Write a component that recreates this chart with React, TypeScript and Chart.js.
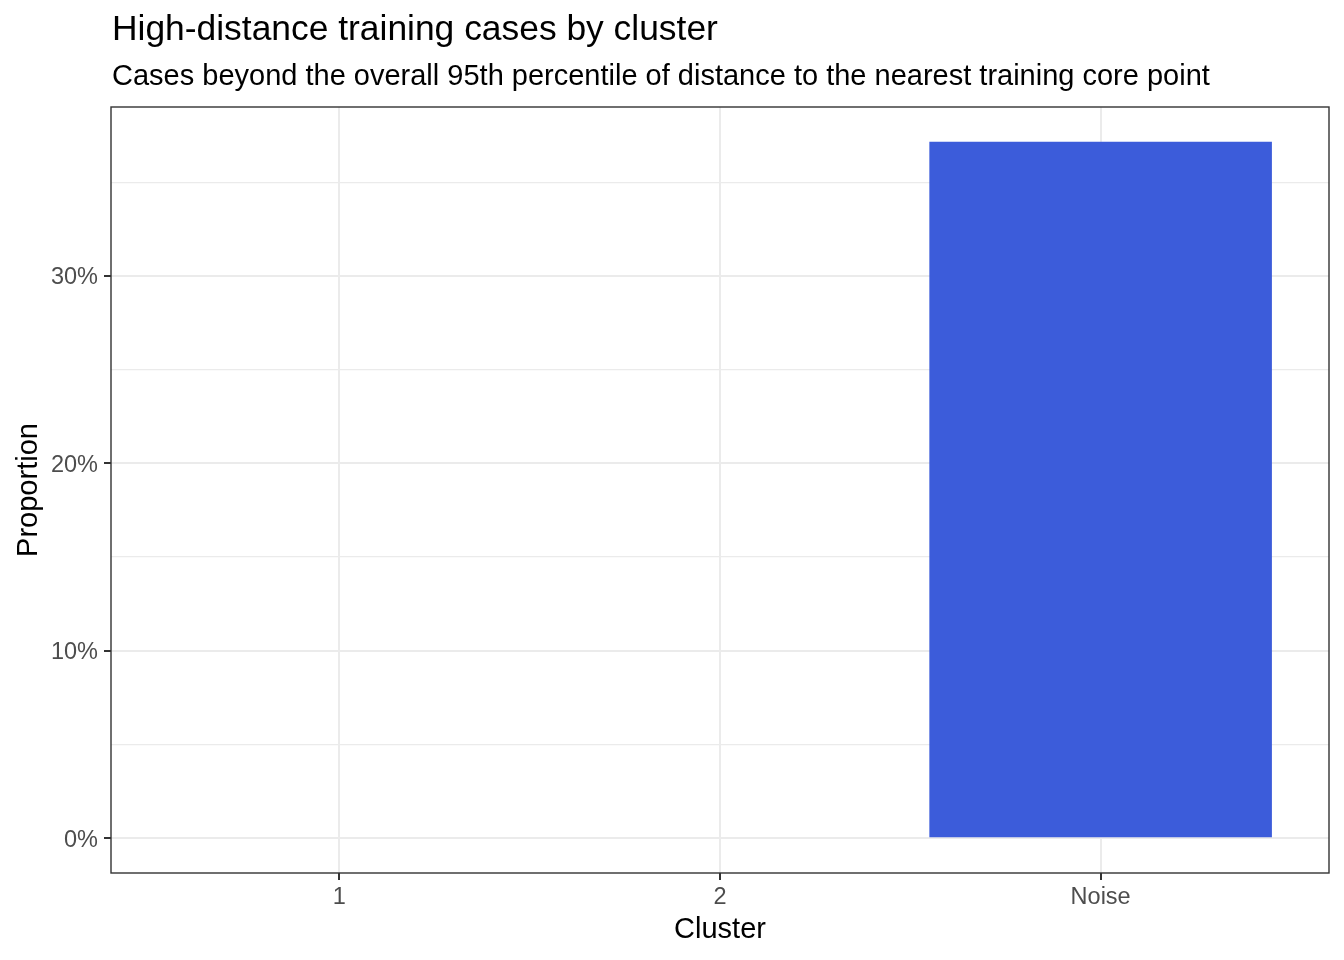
import { useEffect, useRef } from "react"
import { Chart, registerables } from "chart.js"

Chart.register(...registerables)

const clusters = ["1", "2", "Noise"]
const proportions = [0, 0, 0.3716]
const majorTicks = [0, 0.1, 0.2, 0.3]
const minorTicks = [0.05, 0.15, 0.25, 0.35]

const titleText = "High-distance training cases by cluster"
const subtitleText = "Cases beyond the overall 95th percentile of distance to the nearest training core point"
const xTitle = "Cluster"
const yTitle = "Proportion"

const FONT = "'Liberation Sans', Arial, Helvetica, sans-serif"

const isMajor = (v: number) => majorTicks.some((m) => Math.abs(m - v) < 1e-9)

// titulos, eixos e moldura do painel (estilo ggplot theme_bw)
const decorPlugin = {
  id: "decor",
  afterDraw(chart: Chart) {
    const { ctx, chartArea } = chart
    const { left, right, top, bottom } = chartArea
    ctx.save()
    ctx.fillStyle = "#000000"
    ctx.textBaseline = "alphabetic"
    ctx.textAlign = "left"
    ctx.font = `35.4px ${FONT}`
    ctx.fillText(titleText, left + 1, 40)
    ctx.font = `29px ${FONT}`
    ctx.fillText(subtitleText, left + 1, 85)

    ctx.textAlign = "center"
    ctx.fillText(xTitle, (left + right) / 2, 938)
    ctx.translate(36.5, (top + bottom) / 2)
    ctx.rotate(-Math.PI / 2)
    ctx.fillText(yTitle, 0, 0)
    ctx.restore()

    ctx.save()
    ctx.strokeStyle = "#333333"
    ctx.lineWidth = 1.4
    ctx.strokeRect(left, top, right - left, bottom - top)
    ctx.restore()
  },
}

export default function App() {
  const chartRef = useRef<HTMLCanvasElement>(null)
  const chartInstance = useRef<Chart | null>(null)

  useEffect(() => {
    if (!chartRef.current) return
    if (chartInstance.current) chartInstance.current.destroy()

    const ctx = chartRef.current.getContext("2d")
    if (!ctx) return

    const maxVal = Math.max(...proportions)
    const yMin = -0.05 * maxVal
    const yMax = maxVal * 1.05
    const allTicks = [...majorTicks, ...minorTicks].sort((a, b) => a - b)
    const xIdx = clusters.map((_, i) => i)

    chartInstance.current = new Chart(ctx, {
      type: "bar",
      data: {
        datasets: [
          {
            label: "Proportion",
            data: proportions.map((p, i) => ({ x: i, y: p })),
            backgroundColor: "#3C5CDA",
            borderWidth: 0,
            categoryPercentage: 0.9,
            barPercentage: 1.0,
          },
        ],
      },
      options: {
        responsive: false,
        animation: false,
        layout: { padding: { top: 107, right: 15, left: 0, bottom: 0 } },
        plugins: {
          legend: { display: false },
          tooltip: { enabled: false },
          title: { display: false },
        },
        scales: {
          x: {
            type: "linear",
            min: -0.6,
            max: clusters.length - 1 + 0.6,
            offset: false,
            afterFit: (scale: any) => {
              scale.height = 87
            },
            afterBuildTicks: (scale: any) => {
              scale.ticks = xIdx.map((v) => ({ value: v }))
            },
            border: { display: false },
            grid: {
              offset: false,
              color: "#EBEBEB",
              lineWidth: 2,
              tickColor: "#333333",
              tickLength: 7,
              tickWidth: 2,
            },
            ticks: {
              color: "#4D4D4D",
              padding: 3,
              font: { family: FONT, size: 23.5 },
              maxRotation: 0,
              autoSkip: false,
              callback: (v: any) => clusters[Math.round(Number(v))] ?? "",
            },
          },
          y: {
            type: "linear",
            min: yMin,
            max: yMax,
            afterFit: (scale: any) => {
              scale.width = 111
            },
            afterBuildTicks: (scale: any) => {
              scale.ticks = allTicks.map((v) => ({ value: v }))
            },
            border: { display: false },
            grid: {
              color: "#EBEBEB",
              lineWidth: (c: any) => (c.tick && isMajor(c.tick.value) ? 2 : 1.2),
              tickColor: (c: any) => (c.tick && isMajor(c.tick.value) ? "#333333" : "rgba(0,0,0,0)"),
              tickLength: 7,
              tickWidth: 2,
            },
            ticks: {
              color: "#4D4D4D",
              padding: 6,
              labelOffset: 2,
              font: { family: FONT, size: 23.5 },
              callback: (v: any) => (isMajor(Number(v)) ? `${Math.round(Number(v) * 100)}%` : ""),
            },
          },
        },
      },
      plugins: [decorPlugin],
    } as any)

    return () => {
      if (chartInstance.current) {
        chartInstance.current.destroy()
        chartInstance.current = null
      }
    }
  }, [])

  return (
    <div style={{ position: "absolute", left: 0, top: 0, width: 1344, height: 960, background: "#ffffff" }}>
      <canvas ref={chartRef} width={1344} height={960} style={{ display: "block", width: 1344, height: 960 }} />
    </div>
  )
}
